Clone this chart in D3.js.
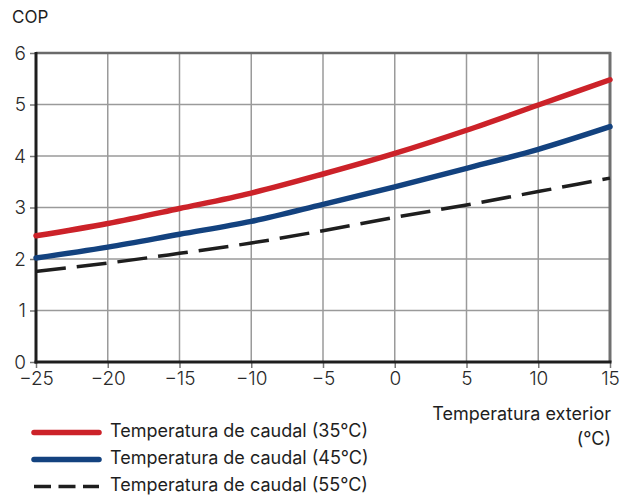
<!DOCTYPE html>
<html>
<head>
<meta charset="utf-8">
<script src="https://cdn.jsdelivr.net/npm/d3@7"></script>
<style>
  html, body { margin: 0; padding: 0; background: #fff; }
  svg { display: block; font-family: Inter, "Noto Sans", sans-serif; }
</style>
</head>
<body>
<svg id="chart" width="635" height="495"></svg>
<script>
// Outdoor temperature (°C) and COP for three flow temperatures
const outdoorTemps = [-25, -20, -15, -10, -5, 0, 5, 10, 15];
const cop35 = [2.45, 2.69, 2.98, 3.28, 3.65, 4.05, 4.5, 4.99, 5.48];
const cop45 = [2.02, 2.23, 2.48, 2.73, 3.06, 3.40, 3.76, 4.13, 4.57];
const cop55 = [1.76, 1.92, 2.11, 2.31, 2.55, 2.81, 3.05, 3.31, 3.57];
const seriesNames = [
  "Temperatura de caudal (35°C)",
  "Temperatura de caudal (45°C)",
  "Temperatura de caudal (55°C)"
];
const xTicks = [-25, -20, -15, -10, -5, 0, 5, 10, 15];
const yTicks = [0, 1, 2, 3, 4, 5, 6];

const svg = d3.select("#chart");
const plotLeft = 36, plotRight = 610, plotTop = 53, plotBottom = 362;

const x = d3.scaleLinear().domain([-25, 15]).range([plotLeft, plotRight]);
const y = d3.scaleLinear().domain([0, 6]).range([plotBottom, plotTop]);

const textColor = "#1e1e1e";

// Grid
const grid = svg.append("g");
grid.selectAll("line.v").data(xTicks.slice(1, -1)).join("line")
  .attr("x1", d => x(d)).attr("x2", d => x(d))
  .attr("y1", plotTop).attr("y2", plotBottom)
  .attr("stroke", "#9a9a9a").attr("stroke-width", 1.5);
grid.selectAll("line.h").data(yTicks.slice(1, -1)).join("line")
  .attr("x1", plotLeft).attr("x2", plotRight)
  .attr("y1", d => y(d)).attr("y2", d => y(d))
  .attr("stroke", "#9a9a9a").attr("stroke-width", 1.5);
// top and right frame
grid.append("line").attr("x1", plotLeft).attr("x2", plotRight + 1)
  .attr("y1", y(6)).attr("y2", y(6))
  .attr("stroke", "#6a6a6a").attr("stroke-width", 2.5);
grid.append("line").attr("x1", x(15)).attr("x2", x(15))
  .attr("y1", plotTop - 1).attr("y2", plotBottom)
  .attr("stroke", "#707070").attr("stroke-width", 3);

// Axes
const yAxis = svg.append("g").attr("transform", `translate(${plotLeft},0)`)
  .call(d3.axisLeft(y).tickValues(yTicks).tickSize(6).tickPadding(4)
    .tickFormat(d3.format("d")));
const xAxis = svg.append("g").attr("transform", `translate(0,${plotBottom})`)
  .call(d3.axisBottom(x).tickValues(xTicks).tickSize(6).tickPadding(4)
    .tickFormat(d => d < 0 ? "\u2212" + Math.abs(d) : String(d)));
[yAxis, xAxis].forEach(g => {
  g.select(".domain").remove();
  g.selectAll(".tick line").attr("stroke", "#777").attr("stroke-width", 1.5);
  g.selectAll(".tick text").attr("fill", "#2a2a2a")
    .style("font-size", "19px").style("font-weight", 300)
    .style("font-family", "Inter, sans-serif");
});
yAxis.selectAll(".tick text").attr("dy", "0.34em");
svg.append("line").attr("x1", plotLeft).attr("x2", plotLeft)
  .attr("y1", plotTop - 1).attr("y2", plotBottom + 1.5)
  .attr("stroke", "#1e1e1e").attr("stroke-width", 3);
svg.append("line").attr("x1", plotLeft - 1.5).attr("x2", plotRight + 1.5)
  .attr("y1", plotBottom).attr("y2", plotBottom)
  .attr("stroke", "#1e1e1e").attr("stroke-width", 3);

// Axis titles
svg.append("text").attr("x", 12).attr("y", 23).text("COP")
  .attr("fill", textColor).style("font-size", "17px");
svg.append("text").attr("x", plotRight + 1).attr("y", 420).attr("text-anchor", "end")
  .text("Temperatura exterior").attr("fill", textColor).style("font-size", "18px");
svg.append("text").attr("x", plotRight + 1).attr("y", 445).attr("text-anchor", "end")
  .text("(°C)").attr("fill", textColor).style("font-size", "18px");

// Curves
const series = [
  { values: cop35, color: "#cc2229", width: 5.5, dash: null },
  { values: cop45, color: "#13427f", width: 5.5, dash: null },
  { values: cop55, color: "#1e1e1e", width: 3.5, dash: "30,11" }
];
const line = d3.line()
  .x((d, i) => x(outdoorTemps[i]))
  .y(d => y(d))
  .curve(d3.curveMonotoneX);

series.forEach(s => {
  svg.append("path").datum(s.values)
    .attr("d", line)
    .attr("fill", "none")
    .attr("stroke", s.color)
    .attr("stroke-width", s.width)
    .attr("stroke-linecap", s.dash ? "butt" : "round")
    .attr("stroke-dasharray", s.dash);
});

// Legend
const legendY = [432.5, 459.5, 486.5];
series.forEach((s, i) => {
  svg.append("line")
    .attr("x1", 34).attr("x2", 99)
    .attr("y1", legendY[i]).attr("y2", legendY[i])
    .attr("stroke", s.color)
    .attr("stroke-width", s.dash ? 3.5 : 5.5)
    .attr("stroke-linecap", s.dash ? "butt" : "round")
    .attr("stroke-dasharray", s.dash ? "17,7.5" : null);
  svg.append("text")
    .attr("x", 110).attr("y", legendY[i] + 4.5)
    .text(seriesNames[i]).attr("fill", textColor).style("font-size", "18px");
});
</script>
</body>
</html>
